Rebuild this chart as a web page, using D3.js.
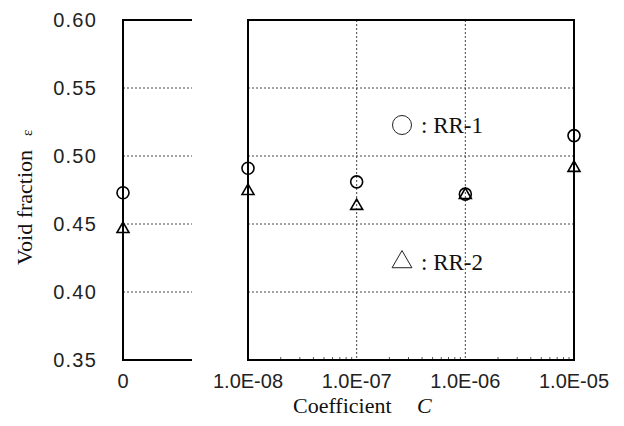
<!DOCTYPE html>
<html>
<head>
<meta charset="utf-8">
<script src="https://cdn.jsdelivr.net/npm/d3@7"></script>
<style>
  body { margin: 0; background: #fff; }
</style>
</head>
<body>
<svg width="624" height="426"></svg>
<script>
let width = 624;
let height = 426;

const coefficients = [1e-8, 1e-7, 1e-6, 1e-5];
const coefLabels = ['1.0E-08', '1.0E-07', '1.0E-06', '1.0E-05'];
const yTicks = [0.35, 0.40, 0.45, 0.50, 0.55, 0.60];

// value at C = 0 (left panel), then values at each coefficient
const rr1Zero = 0.473;
const rr2Zero = 0.447;
const rr1 = [0.491, 0.481, 0.472, 0.515];
const rr2 = [0.475, 0.464, 0.472, 0.492];

const sans = '"Liberation Sans", Arial, sans-serif';
const serif = '"Liberation Serif", "Times New Roman", "DejaVu Serif", serif';

let svg = d3.select('svg');

let y = d3.scaleLinear().domain([0.35, 0.60]).range([360, 20]);
let xLeft = d3.scaleLinear().domain([0, 1]).range([123, 192]);
let xRight = d3.scaleLog().domain([1e-8, 1e-5]).range([248, 574]);

let grid = svg.append('g')
  .attr('stroke', '#444')
  .attr('stroke-width', 1)
  .attr('stroke-dasharray', '2,2');

// horizontal grid, both panels
yTicks.slice(1, -1).forEach(v => {
  grid.append('line')
    .attr('x1', xLeft(0)).attr('x2', xLeft(1))
    .attr('y1', y(v)).attr('y2', y(v));
  grid.append('line')
    .attr('x1', xRight(1e-8)).attr('x2', xRight(1e-5))
    .attr('y1', y(v)).attr('y2', y(v));
});

// vertical grid, right panel
coefficients.slice(1, -1).forEach(c => {
  grid.append('line')
    .attr('x1', xRight(c)).attr('x2', xRight(c))
    .attr('y1', y(0.60)).attr('y2', y(0.35));
});

// minor log ticks on the bottom axis
let minor = [];
for (let e = -8; e < -5; e++) {
  for (let m = 2; m < 10; m++) minor.push(m * Math.pow(10, e));
}
svg.append('g')
  .selectAll('line')
  .data(minor)
  .enter()
  .append('line')
    .attr('x1', d => xRight(d)).attr('x2', d => xRight(d))
    .attr('y1', y(0.35)).attr('y2', y(0.35) - 3)
    .attr('stroke', '#555')
    .attr('stroke-width', 1);

// frames
let frame = svg.append('g')
  .attr('fill', 'none')
  .attr('stroke', '#000')
  .attr('stroke-width', 2);

frame.append('path')
  .attr('d', `M${xLeft(1)},${y(0.60)}H${xLeft(0)}V${y(0.35)}H${xLeft(1)}`);

frame.append('rect')
  .attr('x', xRight(1e-8))
  .attr('y', y(0.60))
  .attr('width', xRight(1e-5) - xRight(1e-8))
  .attr('height', y(0.35) - y(0.60));

// y tick labels
svg.append('g')
  .selectAll('text')
  .data(yTicks)
  .enter()
  .append('text')
    .attr('font-family', sans)
    .attr('font-size', 20)
    .attr('letter-spacing', 1.2)
    .attr('fill', '#222')
    .attr('x', 97)
    .attr('y', d => y(d))
    .attr('dy', '0.36em')
    .attr('text-anchor', 'end')
    .text(d => d.toFixed(2));

// x tick labels
svg.append('text')
  .attr('font-family', sans)
  .attr('font-size', 20)
  .attr('fill', '#222')
  .attr('x', xLeft(0))
  .attr('y', 388)
  .attr('text-anchor', 'middle')
  .text('0');

svg.append('g')
  .selectAll('text')
  .data(coefficients)
  .enter()
  .append('text')
    .attr('font-family', sans)
    .attr('font-size', 20)
    .attr('fill', '#222')
    .attr('x', d => xRight(d))
    .attr('y', 388)
    .attr('text-anchor', 'middle')
    .text((d, i) => coefLabels[i]);

// axis titles
let xTitle = svg.append('text')
  .attr('font-family', serif)
  .attr('font-size', 22)
  .attr('fill', '#111')
  .attr('x', 293)
  .attr('y', 413);
xTitle.append('tspan').text('Coefficient');
xTitle.append('tspan').attr('x', 417).attr('font-style', 'italic').text('C');

let yTitle = svg.append('text')
  .attr('font-family', serif)
  .attr('font-size', 22)
  .attr('fill', '#111')
  .attr('transform', 'translate(32, 265) rotate(-90)');
yTitle.append('tspan').text('Void fraction');
yTitle.append('tspan').attr('dx', 14).attr('font-size', 15).text('ε');

// markers
let triangle = d3.symbol().type(d3.symbolTriangle).size(62);

function drawSeries(zeroVal, vals, kind) {
  let pts = [{ x: xLeft(0), v: zeroVal }]
    .concat(vals.map((v, i) => ({ x: xRight(coefficients[i]), v: v })));
  let g = svg.append('g')
    .attr('fill', 'none')
    .attr('stroke', '#000')
    .attr('stroke-width', 1.6);
  if (kind === 'circle') {
    g.selectAll('circle')
      .data(pts)
      .enter()
      .append('circle')
        .attr('cx', d => d.x)
        .attr('cy', d => y(d.v))
        .attr('r', 6);
  } else {
    g.selectAll('path')
      .data(pts)
      .enter()
      .append('path')
        .attr('d', triangle)
        .attr('transform', d => `translate(${d.x}, ${y(d.v) + 1})`);
  }
}

drawSeries(rr1Zero, rr1, 'circle');
drawSeries(rr2Zero, rr2, 'triangle');

// legend
let legend = svg.append('g');
legend.append('circle')
  .attr('cx', 402)
  .attr('cy', 125)
  .attr('r', 9.5)
  .attr('fill', 'none')
  .attr('stroke', '#222')
  .attr('stroke-width', 1);
legend.append('text')
  .attr('font-family', serif)
  .attr('font-size', 23)
  .attr('fill', '#111')
  .attr('x', 421)
  .attr('y', 133)
  .text(': RR-1');

legend.append('path')
  .attr('d', d3.symbol().type(d3.symbolTriangle).size(170))
  .attr('transform', 'translate(402, 262)')
  .attr('fill', 'none')
  .attr('stroke', '#222')
  .attr('stroke-width', 1);
legend.append('text')
  .attr('font-family', serif)
  .attr('font-size', 23)
  .attr('fill', '#111')
  .attr('x', 421)
  .attr('y', 270)
  .text(': RR-2');
</script>
</body>
</html>
